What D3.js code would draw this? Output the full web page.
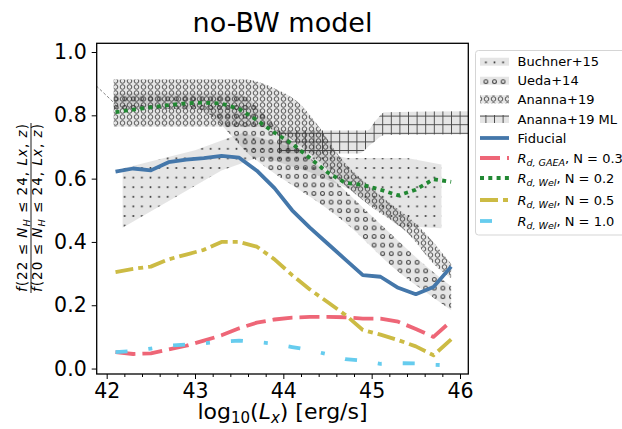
<!DOCTYPE html>
<html><head><meta charset="utf-8">
<script src="https://cdn.jsdelivr.net/npm/d3@7"></script>
<style>body{margin:0;background:#fff;} svg{display:block;font-family:"DejaVu Sans",sans-serif;}</style>
</head><body><svg id="c" width="622" height="429"></svg>
<script>
// ---- data ----
const lx = [42.1,42.3,42.5,42.7,42.9,43.1,43.3,43.5,43.7,43.9,44.1,44.3,44.5,44.7,44.9,45.1,45.3,45.5,45.7,45.9];
const fiducial = [0.622,0.632,0.626,0.652,0.660,0.665,0.672,0.666,0.625,0.570,0.500,0.445,0.395,0.345,0.295,0.290,0.255,0.235,0.258,0.322];
const gaeaN03 = [0.052,0.046,0.048,0.060,0.072,0.088,0.105,0.127,0.145,0.155,0.161,0.163,0.163,0.162,0.158,0.158,0.148,0.125,0.100,0.150];
const welN02 = [0.810,0.818,0.825,0.832,0.838,0.840,0.837,0.820,0.785,0.745,0.710,0.665,0.620,0.587,0.580,0.565,0.547,0.565,0.598,0.590];
const welN05 = [0.305,0.315,0.322,0.345,0.360,0.375,0.400,0.400,0.385,0.345,0.295,0.250,0.210,0.170,0.122,0.107,0.090,0.070,0.042,0.092];
const welN10 = [0.052,0.055,0.063,0.072,0.076,0.080,0.085,0.088,0.084,0.078,0.068,0.058,0.045,0.030,0.025,0.015,0.017,0.016,0.012,0.010];

const buchnerUpper = [[42.18,0.632],[43.0,0.69],[43.54,0.745],[44.1,0.70],[44.72,0.665],[45.4,0.665],[45.79,0.645]];
const buchnerLower = [[42.18,0.445],[43.3,0.626],[43.75,0.67],[44.3,0.62],[44.8,0.56],[45.3,0.45],[45.79,0.443]];
const uedaUpper = [[42.08,0.87],[43.45,0.87],[44.0,0.74],[44.5,0.615],[45.2,0.43],[45.63,0.32],[45.9,0.26]];
const uedaLower = [[42.08,0.82],[43.0,0.82],[43.66,0.665],[44.76,0.447],[45.24,0.32],[45.74,0.216],[45.9,0.184]];
const anannaUpper = [[42.08,0.913],[43.55,0.913],[43.9,0.885],[44.15,0.845],[44.4,0.765],[44.65,0.665],[45.0,0.57],[45.6,0.43],[45.9,0.33]];
const anannaLower = [[42.08,0.765],[43.7,0.765],[44.0,0.74],[44.3,0.68],[44.65,0.59],[45.0,0.51],[45.4,0.43],[45.74,0.32],[45.9,0.285]];
const mlUpper = [[43.95,0.752],[44.95,0.752],[45.05,0.785],[45.15,0.81],[46.3,0.813]];
const mlLower = [[43.95,0.679],[44.85,0.679],[45.0,0.71],[45.15,0.738],[46.3,0.74]];
const modelTail = [[41.8,0.915],[42.1,0.835]];

const xTicks = [42,43,44,45,46];
const xMinor = [42.2,42.4,42.6,42.8,43.2,43.4,43.6,43.8,44.2,44.4,44.6,44.8,45.2,45.4,45.6,45.8];
const yTicks = [0.0,0.2,0.4,0.6,0.8,1.0];
const title = "no-BW model";

// ---- setup ----
const svg = d3.select('#c');
const m = {l:96.7, r:468.3, t:43.3, b:374};
const x = d3.scaleLinear().domain([41.887,46.094]).range([m.l,m.r]);
const y = d3.scaleLinear().domain([-0.0172,1.0275]).range([m.b,m.t]);

const defs = svg.append('defs');
defs.append('clipPath').attr('id','clip').append('rect')
  .attr('x',m.l).attr('y',m.t).attr('width',m.r-m.l).attr('height',m.b-m.t);
function pat(id,w,h,draw){const p=defs.append('pattern').attr('id',id)
  .attr('patternUnits','userSpaceOnUse').attr('width',w).attr('height',h); draw(p);}
pat('hDots',8.6,9.6,p=>p.append('circle').attr('cx',4.3).attr('cy',4.8).attr('r',1.0).attr('fill','#222'));
pat('hSmallO',8.6,8.6,p=>p.append('circle').attr('cx',4.3).attr('cy',4.3).attr('r',1.9)
  .attr('fill','none').attr('stroke','#2a2a2a').attr('stroke-width',1));
pat('hBigO',7,6,p=>p.append('circle').attr('cx',3.5).attr('cy',3).attr('r',2.3)
  .attr('fill','none').attr('stroke','#333').attr('stroke-width',0.9));
pat('hPlus',8.6,8.6,p=>{
  p.append('line').attr('x1',4.3).attr('x2',4.3).attr('y1',0).attr('y2',8.6).attr('stroke','#333').attr('stroke-width',0.9);
  p.append('line').attr('y1',4.3).attr('y2',4.3).attr('x1',0).attr('x2',8.6).attr('stroke','#333').attr('stroke-width',0.9);
});

const plot = svg.append('g').attr('clip-path','url(#clip)');

function bandPath(up, lo, curve){
  const ln = d3.line().x(d=>x(d[0])).y(d=>y(d[1])).curve(curve);
  const a = ln(up);
  const b = ln(lo.slice().reverse()).replace(/^M/,'L');
  return a + b + 'Z';
}
const bands = [
  {up:buchnerUpper, lo:buchnerLower, curve:d3.curveLinear, pat:'hDots'},
  {up:uedaUpper, lo:uedaLower, curve:d3.curveMonotoneX, pat:'hSmallO'},
  {up:anannaUpper, lo:anannaLower, curve:d3.curveMonotoneX, pat:'hBigO'},
  {up:mlUpper, lo:mlLower, curve:d3.curveMonotoneX, pat:'hPlus'}
];
bands.forEach(bd=>{
  const d = bandPath(bd.up, bd.lo, bd.curve);
  plot.append('path').attr('d',d).attr('fill','#000').attr('fill-opacity',0.1);
  plot.append('path').attr('d',d).attr('fill','url(#'+bd.pat+')').attr('opacity',0.9);
});

plot.append('path').datum(modelTail)
  .attr('d',d3.line().x(d=>x(d[0])).y(d=>y(d[1])))
  .attr('fill','none').attr('stroke','#777').attr('stroke-width',0.9).attr('stroke-dasharray','3,2');

const series = [
  {v:fiducial, c:'#4477AA', dash:null},
  {v:gaeaN03, c:'#EE6677', dash:'20,7'},
  {v:welN02, c:'#228833', dash:'4,4.3'},
  {v:welN05, c:'#CCBB44', dash:'18,5,5,5'},
  {v:welN10, c:'#66CCEE', dash:'12,21,4,21'}
];
const line = d3.line().x((d,i)=>x(lx[i])).y(d=>y(d));
series.forEach(s=>{
  const p = plot.append('path').datum(s.v).attr('d',line).attr('fill','none')
    .attr('stroke',s.c).attr('stroke-width',3.8).attr('stroke-linejoin','round');
  if(s.dash) p.attr('stroke-dasharray',s.dash);
});

// ---- axes ----
const xa = svg.append('g').attr('transform',`translate(0,${m.b})`)
  .call(d3.axisBottom(x).tickValues(xTicks).tickFormat(d3.format('d')).tickSize(5).tickPadding(4));
const xm = svg.append('g').attr('transform',`translate(0,${m.b})`)
  .call(d3.axisBottom(x).tickValues(xMinor).tickFormat('').tickSize(3));
const ya = svg.append('g').attr('transform',`translate(${m.l},0)`)
  .call(d3.axisLeft(y).tickValues(yTicks).tickFormat(d3.format('.1f')).tickSize(5).tickPadding(5));
[xa,xm,ya].forEach(g=>{
  g.select('.domain').remove();
  g.selectAll('line').attr('stroke','#000').attr('stroke-width',1);
  g.selectAll('text').attr('fill','#000').style('font-family','"DejaVu Sans",sans-serif').style('font-size','20.5px');
});

svg.append('rect').attr('x',m.l).attr('y',m.t).attr('width',m.r-m.l).attr('height',m.b-m.t)
  .attr('fill','none').attr('stroke','#000').attr('stroke-width',1.3);

// ---- title & labels ----
svg.append('text').attr('x',(m.l+m.r)/2).attr('y',32).attr('text-anchor','middle')
  .style('font-size','27px').attr('fill','#000').text(title);

const xl = svg.append('text').attr('x',(m.l+m.r)/2).attr('y',419).attr('text-anchor','middle')
  .style('font-size','22px').attr('fill','#000');
xl.append('tspan').text('log');
xl.append('tspan').attr('dy',4).style('font-size','15px').text('10');
xl.append('tspan').attr('dy',-4).text('(');
xl.append('tspan').style('font-style','italic').text('L');
xl.append('tspan').attr('dy',4).style('font-size','15px').style('font-style','italic').text('x');
xl.append('tspan').attr('dy',-4).text(') [erg/s]');

const yl = svg.append('g').attr('transform','translate(0,208) rotate(-90)');
function fracText(yy, num){
  const t = yl.append('text').attr('x',0).attr('y',yy).attr('text-anchor','middle')
    .style('font-size','13.5px').attr('fill','#000')
    .attr('textLength',168).attr('lengthAdjust','spacing');
  t.append('tspan').style('font-style','italic').text('f');
  t.append('tspan').text('('+num+' ≤ ');
  t.append('tspan').style('font-style','italic').text('N');
  t.append('tspan').attr('dy',3).style('font-size','9.5px').style('font-style','italic').text('H');
  t.append('tspan').attr('dy',-3).text(' ≤ 24, ');
  t.append('tspan').style('font-style','italic').text('Lx');
  t.append('tspan').text(', ');
  t.append('tspan').style('font-style','italic').text('z');
  t.append('tspan').text(')');
}
fracText(27,'22');
fracText(41.5,'20');
yl.append('line').attr('x1',-85).attr('x2',85).attr('y1',31).attr('y2',31).attr('stroke','#000').attr('stroke-width',0.9);

// ---- legend ----
const lg = svg.append('g');
lg.append('rect').attr('x',475.5).attr('y',50.5).attr('width',160).attr('height',184.5).attr('rx',3)
  .attr('fill','#fff').attr('fill-opacity',0.8).attr('stroke','#d5d5d5').attr('stroke-width',1);
const legendItems = [
  {type:'band', pat:'hDots', label:['Buchner+15'], cy:61.7},
  {type:'band', pat:'hSmallO', label:['Ueda+14'], cy:80.7},
  {type:'band', pat:'hBigO', label:['Ananna+19'], cy:99.3},
  {type:'band', pat:'hPlus', label:['Ananna+19 ML'], cy:119},
  {type:'line', s:series[0], label:['Fiducial'], cy:138},
  {type:'line', s:series[1], label:['R','d, GAEA',', N = 0.3'], cy:158},
  {type:'line', s:series[2], label:['R','d, Wel',', N = 0.2'], cy:178},
  {type:'line', s:series[3], label:['R','d, Wel',', N = 0.5'], cy:200},
  {type:'line', s:series[4], label:['R','d, Wel',', N = 1.0'], cy:221}
];
legendItems.forEach(it=>{
  if(it.type==='band'){
    lg.append('rect').attr('x',480).attr('y',it.cy-4).attr('width',29).attr('height',8).attr('fill','#000').attr('fill-opacity',0.1);
    lg.append('rect').attr('x',480).attr('y',it.cy-4).attr('width',29).attr('height',8).attr('fill','url(#'+it.pat+')').attr('opacity',0.9);
  } else {
    const p = lg.append('line').attr('x1',480).attr('x2',509).attr('y1',it.cy).attr('y2',it.cy)
      .attr('stroke',it.s.c).attr('stroke-width',3.8);
    if(it.s.dash) p.attr('stroke-dasharray',it.s.dash);
  }
  const t = lg.append('text').attr('x',517.5).attr('y',it.cy+4.6).style('font-size','13px').attr('fill','#000');
  if(it.label.length===1){ t.text(it.label[0]); }
  else {
    t.append('tspan').style('font-style','italic').text(it.label[0]);
    t.append('tspan').attr('dy',3).style('font-size','9.5px').style('font-style','italic').text(it.label[1]);
    t.append('tspan').attr('dy',-3).text(it.label[2]);
  }
});
</script></body></html>
